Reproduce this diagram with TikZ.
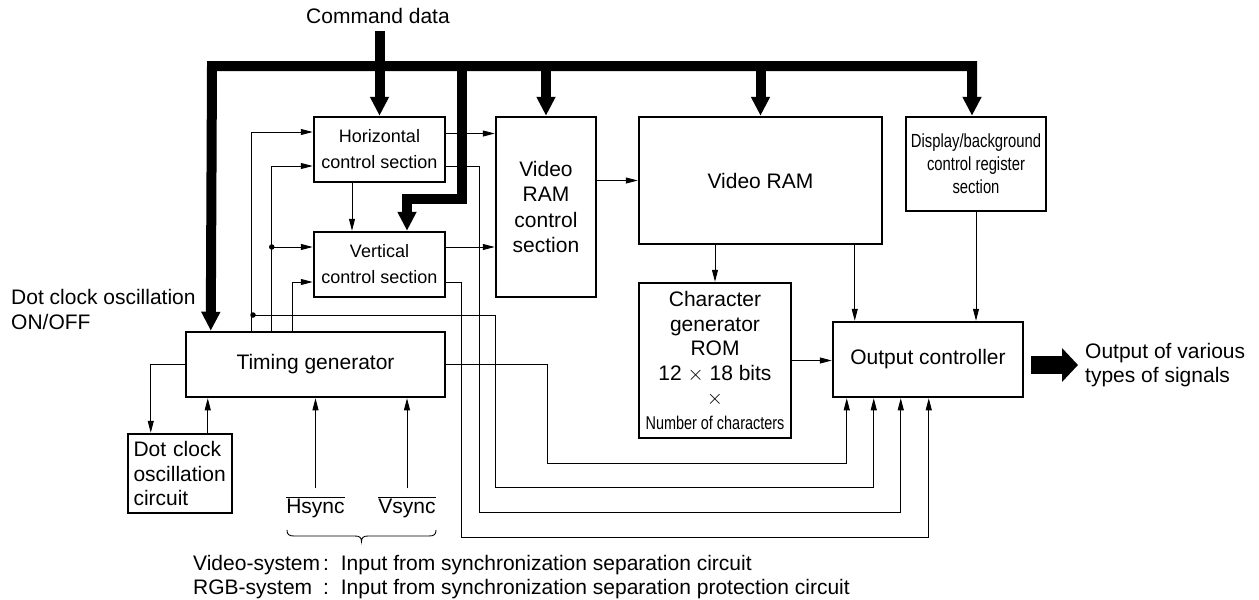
\documentclass[tikz,border=0pt]{standalone}
\usepackage{fontspec}
\setmainfont{Liberation Sans}
\newfontfamily\condfont[FakeStretch=0.78]{Liberation Sans}
\usetikzlibrary{arrows.meta,calc}
\newcommand\fmain{\fontsize{21}{24.5}\selectfont}
\newcommand\fctl{\fontsize{18}{26}\selectfont}
\newcommand\fcond{\condfont\fontsize{19}{23}\selectfont}
\begin{document}
\begin{tikzpicture}[x=1pt,y=-1pt,
  box/.style={draw, line width=2.5pt, inner sep=0pt, align=center, font=\fmain},
  ln/.style={line width=0.9pt},
  arr/.style={line width=0.9pt, -{Triangle[length=12pt,width=6pt]}},
  bus/.style={line width=10pt},
  busarr/.style={line width=10pt, -{Triangle[length=19pt,width=18pt]}},
  dot/.style={circle, fill, inner sep=0pt, minimum size=5.5pt},
  lbl/.style={font=\fmain, inner sep=0pt}]
\useasboundingbox (0,0) rectangle (1259,600);

% boxes
\node[box, minimum width=131pt, minimum height=65pt, font=\fctl] (horiz) at (379.5,149.5) {Horizontal\\control section};
\node[box, minimum width=131pt, minimum height=65pt, font=\fctl] (vert) at (379.5,264.5) {Vertical\\control section};
\node[box, minimum width=259pt, minimum height=65pt] (timing) at (315.5,364.5) {Timing generator};
\node[box, minimum width=104pt, minimum height=79pt, text width=93pt, align=left] (dotclk) at (180,473.5) {Dot clock\\oscillation\\circuit};
\node[box, minimum width=100pt, minimum height=180pt, font=\fontsize{21}{25.3}\selectfont] (vramctl) at (546,207) {Video\\RAM\\control\\section};
\node[box, minimum width=243pt, minimum height=127pt] (vram) at (760.5,180.5) {Video RAM};
\node[box, minimum width=152pt, minimum height=155pt] (chargen) at (715,360.5) {Character\\generator\\ROM\\12 $\times$ 18 bits\\$\times$\\{\fcond\fontsize{18.5}{23}\selectfont Number of characters}};
\node[box, minimum width=190pt, minimum height=75pt] (outctl) at (928,359.5) {Output controller};
\node[box, minimum width=140pt, minimum height=94pt, font=\fcond] (disp) at (976,164) {Display/background\\control register\\section};

% text labels
\node[font=\fmain, inner sep=7pt] (cmd) at (378,16) {Command data};
\node[lbl, align=left, anchor=west] (dco) at (11,309.5) {Dot clock oscillation\\ON/OFF};
\node[lbl, align=left, anchor=west] (outtxt) at (1085,365) {Output of various\\types of signals};
\node[lbl] (hs) at (315.5,507) {$\overline{\hbox{Hsync}}$};
\node[lbl] (vs) at (407,507) {$\overline{\hbox{Vsync}}$};
\node[lbl, anchor=west] (note) at (193,577.5) {\begin{tabular}{@{}l@{\hspace{3pt}}l@{\hspace{12pt}}l@{}}Video-system&:&Input from synchronization separation circuit\\RGB-system&:&Input from synchronization separation protection circuit\end{tabular}};

% coordinates
\coordinate (h1) at ([yshift=16pt]horiz.east);
\coordinate (h2) at ([yshift=-16.5pt]horiz.east);
\coordinate (v1) at ([yshift=17.5pt]vert.east);
\coordinate (v2) at ([yshift=-17.5pt]vert.east);
\coordinate (hi1) at ([yshift=17.5pt]horiz.west);
\coordinate (hi2) at ([yshift=-16.5pt]horiz.west);
\coordinate (vi1) at ([yshift=17.5pt]vert.west);
\coordinate (vi2) at ([yshift=-17.5pt]vert.west);
\coordinate (t1) at ([xshift=67pt]timing.north west);
\coordinate (t2) at ([xshift=87pt]timing.north west);
\coordinate (t3) at ([xshift=108pt]timing.north west);
\coordinate (tb) at ([xshift=26pt]timing.north west);
\coordinate (o1) at ([xshift=15pt]outctl.south west);
\coordinate (o2) at ([xshift=42pt]outctl.south west);
\coordinate (o3) at ([xshift=69pt]outctl.south west);
\coordinate (o4) at ([xshift=97pt]outctl.south west);
\coordinate (dj) at (253,315);
\coordinate (r1) at (547,463);
\coordinate (r2) at (495,487);
\coordinate (r3) at (479,512);
\coordinate (r4) at (461,537);
\coordinate (vo) at ([xshift=23pt]outctl.north west);
\coordinate (hv) at ([xshift=-27.5pt]horiz.south);
\coordinate (dk) at ([xshift=24pt]dotclk.north west);
\coordinate (dk2) at ([xshift=81pt]dotclk.north west);
\coordinate (bl) at (212,66);
\coordinate (br) at (972,66);
\coordinate (dtop) at ([xshift=-4pt]disp.north);
\coordinate (bv) at (462,199);
\coordinate (vt) at ([xshift=27.5pt]vert.north);

% bus
\draw[bus, {Triangle[length=19pt,width=18pt]}-{Triangle[length=19pt,width=18pt]}] (tb) -- (bl) -- (br) -- (dtop);
\draw[busarr] (horiz.north |- cmd.south) -- (horiz.north);
\draw[busarr] (vramctl.north |- bl) -- (vramctl.north);
\draw[busarr] (vram.north |- bl) -- (vram.north);
\draw[busarr] (bv |- bl) -- (bv) -| (vt);

% thin connectors
\draw[arr] (t1) |- (hi1);
\draw[arr] (t2) |- (hi2);
\draw[arr] (t3) |- (vi2);
\draw[arr] (t2 |- vi1) -- (vi1);
\node[dot] (d1) at (t2 |- vi1) {};
\node[dot] (d2) at (dj) {};
\draw[arr] (dj) -| (r2) -| (o2);
\draw[arr] (timing.east) -| (r1) -| (o1);
\draw[arr] (h2) -| (r3) -| (o3);
\draw[arr] (v2) -| (r4) -| (o4);
\draw[arr] (h1) -- (h1 -| vramctl.west);
\draw[arr] (v1) -- (v1 -| vramctl.west);
\draw[arr] (vram.west -| vramctl.east) -- (vram.west);
\draw[arr] (chargen.north |- vram.south) -- (chargen.north);
\draw[arr] (vo |- vram.south) -- (vo);
\draw[arr] (chargen.east) -- (chargen.east -| outctl.west);
\draw[arr] (disp.south) -- (disp.south |- outctl.north);
\draw[arr] (hv) -- (hv |- vert.north);
\draw[arr] (timing.west) -| (dk);
\draw[arr] (dk2) -- (dk2 |- timing.south);
\draw[arr] ([yshift=8pt]hs.north) -- (hs.north |- timing.south);
\draw[arr] ([yshift=8pt]vs.north) -- (vs.north |- timing.south);

% output fat arrow
\draw[line width=18pt, -{Triangle[length=16pt,width=33pt]}] ($(outctl.east |- outtxt.west)+(7,0)$) -- ($(outtxt.west)+(-7,0)$);

% brace
\draw[ln] (287,530) .. controls (287,534.5) and (289,536) .. (294,536)
  -- (355,536) .. controls (359.5,536) and (361.5,537.5) .. (361.5,541.5)
  .. controls (361.5,537.5) and (363.5,536) .. (368,536)
  -- (429,536) .. controls (434,536) and (436,534.5) .. (436,530);
\end{tikzpicture}
\end{document}
